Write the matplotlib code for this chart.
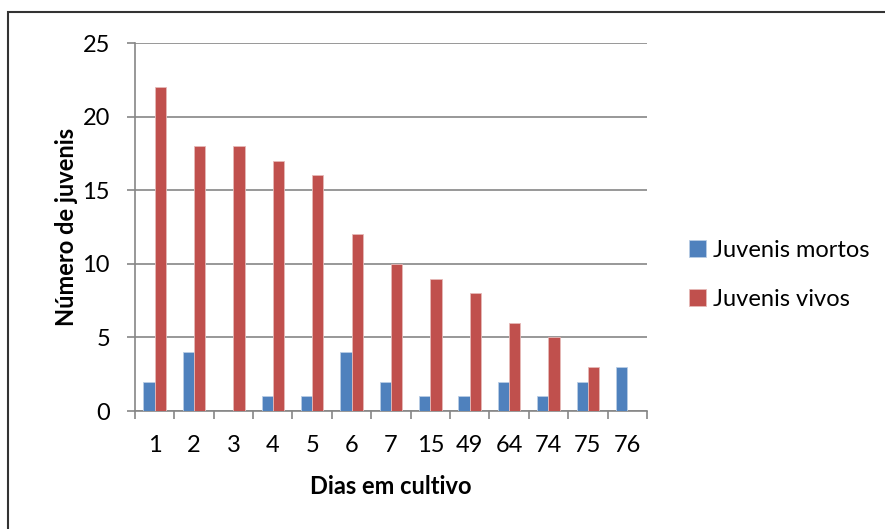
import numpy as np
import matplotlib.pyplot as plt
from matplotlib.patches import Rectangle

plt.rcParams['font.family'] = ['Lato', 'DejaVu Sans']

dias = ["1", "2", "3", "4", "5", "6", "7", "15", "49", "64", "74", "75", "76"]
juvenis_mortos = [2, 4, 0, 1, 1, 4, 2, 1, 1, 2, 1, 2, 3]
juvenis_vivos = [22, 18, 18, 17, 16, 12, 10, 9, 8, 6, 5, 3, 0]

BLUE = "#4F81BD"
RED = "#C0504D"
GRID = "#868686"
FS = 17

fig = plt.figure(figsize=(8.85, 5.29), dpi=100)
ax = fig.add_axes([0.1525, 0.223, 0.5785, 0.6957])

x = np.arange(len(dias))
w = 1 / 3.5
ax.bar(x - w / 2, juvenis_mortos, w, color=BLUE, edgecolor="#B9CDE5",
       linewidth=0.6, label="Juvenis mortos", zorder=3)
ax.bar(x + w / 2, juvenis_vivos, w, color=RED, edgecolor="#E6B9B8",
       linewidth=0.6, label="Juvenis vivos", zorder=3)

ax.set_xlim(-0.5, len(dias) - 0.5)
ax.set_ylim(0, 25)
ax.set_yticks(range(0, 26, 5))
ax.yaxis.grid(True, color=GRID, linewidth=1.2)
ax.set_axisbelow(True)

# category labels centred, tick marks on category boundaries
ax.set_xticks(x)
ax.set_xticklabels(dias)
ax.tick_params(axis="x", length=0, pad=17, labelsize=FS)
ax.set_xticks(np.arange(-0.5, len(dias)), minor=True)
ax.tick_params(axis="x", which="minor", length=6, color=GRID, width=1.2)
ax.tick_params(axis="y", length=6, color=GRID, width=1.2, pad=12, labelsize=FS)

for side in ("top", "right"):
    ax.spines[side].set_visible(False)
for side in ("left", "bottom"):
    ax.spines[side].set_color(GRID)
    ax.spines[side].set_linewidth(1.2)

ax.set_xlabel("Dias em cultivo", fontsize=FS, fontweight="bold", labelpad=14)
ax.set_ylabel("Número de juvenis", fontsize=FS, fontweight="bold", labelpad=3)

ax.legend(loc="center left", bbox_to_anchor=(1.04, 0.37), frameon=False,
          fontsize=FS, handlelength=0.75, handleheight=0.75, labelspacing=1.2,
          handletextpad=0.3)

# outer chart border
fig.add_artist(Rectangle((8 / 885, -0.1), 1.2, 1 - 12 / 529 + 0.1,
                         transform=fig.transFigure, fill=False,
                         edgecolor="#333333", linewidth=1.5))

fig.savefig("out.png", dpi=100)
